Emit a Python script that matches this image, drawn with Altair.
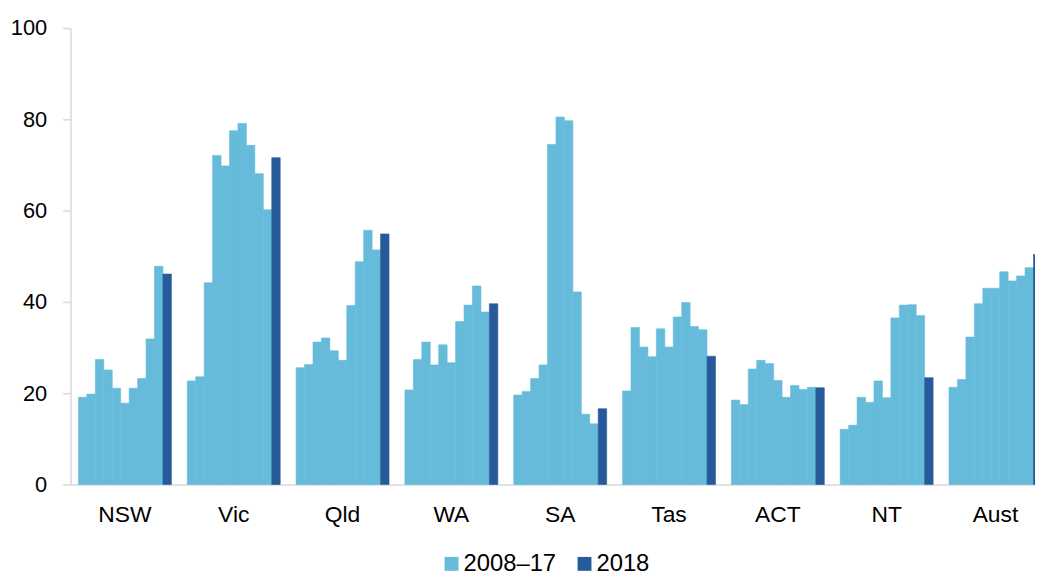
import altair as alt
import pandas as pd

states = ["NSW", "Vic", "Qld", "WA", "SA", "Tas", "ACT", "NT", "Aust"]
years = [str(y) for y in range(2008, 2019)]

NSW = [19.1, 19.8, 27.4, 25.1, 21.1, 17.8, 21.1, 23.2, 31.9, 47.8, 46.1]
Vic = [22.7, 23.6, 44.2, 72.1, 69.8, 77.5, 79.1, 74.3, 68.1, 60.2, 71.6]
Qld = [25.6, 26.3, 31.2, 32.1, 29.3, 27.2, 39.2, 48.8, 55.7, 51.4, 54.9]
WA = [20.7, 27.4, 31.2, 26.2, 30.6, 26.7, 35.7, 39.3, 43.5, 37.8, 39.6]
SA = [19.6, 20.4, 23.2, 26.2, 74.5, 80.5, 79.7, 42.2, 15.4, 13.3, 16.6]
Tas = [20.5, 34.4, 30.1, 28.0, 34.1, 30.1, 36.7, 39.9, 34.6, 33.9, 28.1]
ACT = [18.5, 17.5, 25.3, 27.2, 26.5, 22.8, 19.1, 21.7, 20.8, 21.3, 21.2]
NT = [12.1, 13.0, 19.1, 18.0, 22.7, 19.0, 36.5, 39.3, 39.4, 37.0, 23.4]
Aust = [21.3, 23.0, 32.3, 39.6, 43.0, 43.0, 46.6, 44.6, 45.7, 47.5, 50.4]

series_names = ["2008–17", "2018"]
colors = ["#66BBDB", "#275A9A"]

values = [NSW, Vic, Qld, WA, SA, Tas, ACT, NT, Aust]
rows = []
for st, vals in zip(states, values):
    for yr, v in zip(years, vals):
        rows.append({
            "state": st,
            "year": yr,
            "value": v,
            "series": series_names[1] if yr == "2018" else series_names[0],
        })
df = pd.DataFrame(rows)

chart = alt.Chart(df).mark_bar(strokeWidth=0.6).encode(
    x=alt.X("state:N", sort=states, title=None,
            scale=alt.Scale(range=[0, 987], paddingInner=0.146, paddingOuter=0.073),
            axis=alt.Axis(labelAngle=0, ticks=False, tickSize=0, labelPadding=19,
                          labelFontSize=23, labelFont="Liberation Sans",
                          labelColor="#000000", domainColor="#D9D9D9",
                          domainWidth=1.5, grid=False)),
    xOffset=alt.XOffset("year:N", sort=years,
                        scale=alt.Scale(paddingInner=0, paddingOuter=0)),
    y=alt.Y("value:Q", title=None,
            scale=alt.Scale(domain=[0, 100], nice=False),
            axis=alt.Axis(values=[0, 20, 40, 60, 80, 100], grid=False,
                          tickSize=8, labelPadding=16, labelFontSize=22,
                          labelFont="Liberation Sans", labelColor="#000000",
                          domainColor="#D9D9D9", tickColor="#D9D9D9",
                          domainWidth=1.5, tickWidth=1.5)),
    color=alt.Color("series:N",
                    scale=alt.Scale(domain=series_names, range=colors),
                    legend=alt.Legend(title=None, orient="none", direction="horizontal",
                                      legendX=372, legendY=528,
                                      symbolType="square", symbolSize=196,
                                      symbolStrokeWidth=0, labelFontSize=24,
                                      labelFont="Liberation Sans", labelColor="#000000",
                                      labelOffset=0, columnPadding=16, padding=0)),
    stroke=alt.Stroke("series:N",
                      scale=alt.Scale(domain=series_names, range=colors),
                      legend=None),
).properties(
    width=972,
    height=460,
    autosize=alt.AutoSizeParams(type="none"),
    padding={"left": 63, "top": 18, "right": 0, "bottom": 89},
).configure_view(strokeWidth=0)

chart.save("out.html", embed_options={"renderer": "svg", "actions": False})
